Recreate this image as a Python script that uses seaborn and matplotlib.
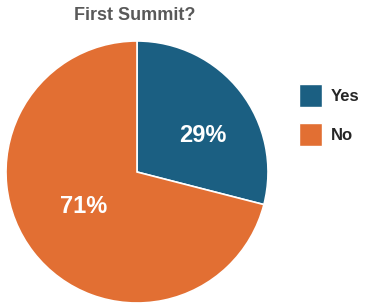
import matplotlib
matplotlib.use("Agg")
import matplotlib.pyplot as plt
import seaborn as sns
from matplotlib.patches import Patch

categories = ["Yes", "No"]
values = [29, 71]
colors = ["#1B5F82", "#E26F33"]
title = "First Summit?"

sns.set_theme(style="white")
plt.rcParams['font.family'] = ['Liberation Sans', 'DejaVu Sans']

fig = plt.figure(figsize=(3.66, 3.07), dpi=100)
ax = fig.add_axes([6/366, 4/307, 262/366, 262/307])
wedges, texts, autotexts = ax.pie(
    values, colors=colors, startangle=90, counterclock=False,
    autopct=lambda p: f"{p:.0f}%", pctdistance=0.58,
    wedgeprops=dict(edgecolor="white", linewidth=1.2),
    textprops=dict(color="white", fontsize=17, fontweight="bold"))
ax.set_aspect("equal")
ax.set_xlim(-1, 1)
ax.set_ylim(-1, 1)
# label placement as in reference
autotexts[0].set_position((0.50, 0.28))
autotexts[1].set_position((-0.41, -0.26))

fig.text(135/366, 1 - 16/307, title, ha="center", va="center",
         fontsize=13, fontweight="bold", color="#595959")

handles = [Patch(facecolor=c, label=l) for c, l in zip(colors, categories)]
fig.legend(handles=handles, loc="upper left", bbox_to_anchor=(299/366, 1 - 84/307),
           frameon=False, prop=dict(weight="bold", size=12),
           borderpad=0, borderaxespad=0,
           handlelength=1.38, handleheight=1.7, labelspacing=1.0, handletextpad=0.55)

fig.savefig("out.png", dpi=100)
